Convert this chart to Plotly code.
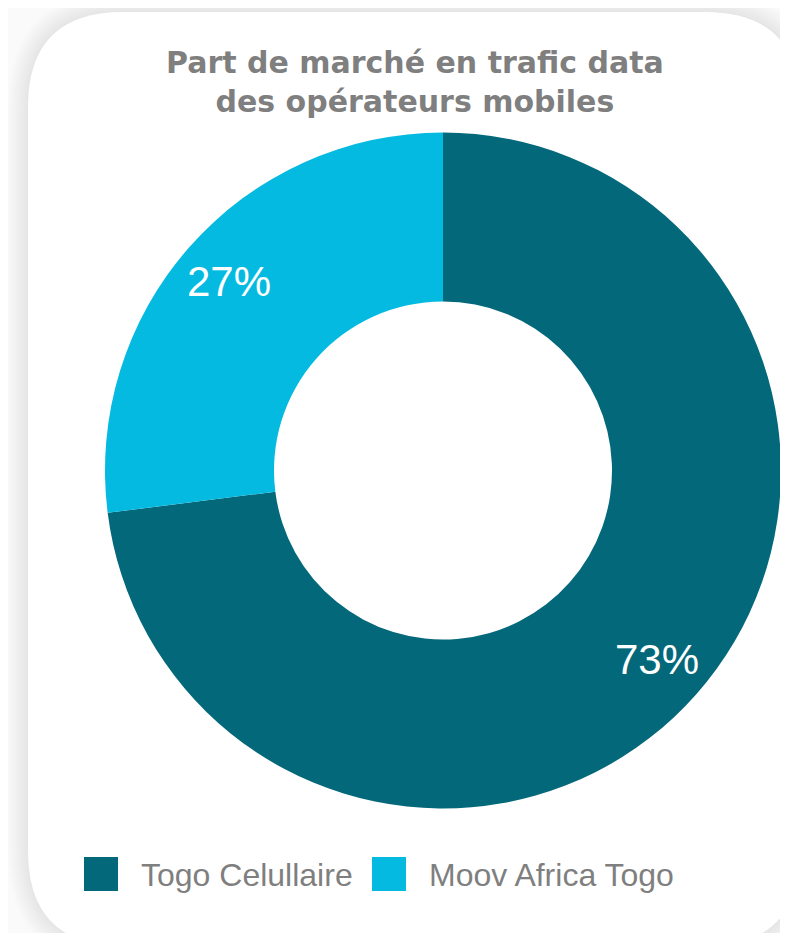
import math
import plotly.graph_objects as go

PAGE_OFF = 8          # default body margin of the page
W, H = 780, 925

operators = ["Togo Celullaire", "Moov Africa Togo"]
shares = [73, 27]
colors = ["#03687A", "#05BAE0"]
title_lines = ["Part de marché en trafic data", "des opérateurs mobiles"]


def px(x):
    return (x - PAGE_OFF) / W


def py(y):
    return 1 - (y - PAGE_OFF) / H


def rounded_rect(x0, y0, x1, y1, r):
    p = [
        f"M{px(x0 + r)},{py(y0)}",
        f"L{px(x1 - r)},{py(y0)}",
        f"Q{px(x1)},{py(y0)} {px(x1)},{py(y0 + r)}",
        f"L{px(x1)},{py(y1 - r)}",
        f"Q{px(x1)},{py(y1)} {px(x1 - r)},{py(y1)}",
        f"L{px(x0 + r)},{py(y1)}",
        f"Q{px(x0)},{py(y1)} {px(x0)},{py(y1 - r)}",
        f"L{px(x0)},{py(y0 + r)}",
        f"Q{px(x0)},{py(y0)} {px(x0 + r)},{py(y0)}",
        "Z",
    ]
    return " ".join(p)


CARD = (28, 12, 800, 946, 95)
shapes = []
# soft shadow around the card
for i in range(10):
    g = 20 - 2 * i
    x0, y0, x1, y1, r = CARD
    shapes.append(dict(type="path", xref="paper", yref="paper", layer="below",
                       path=rounded_rect(x0 - g, y0 - g, x1 + g, y1 + g, r + g),
                       fillcolor="rgba(0,0,0,0.007)", line=dict(width=0)))
shapes.append(dict(type="path", xref="paper", yref="paper", layer="below",
                   path=rounded_rect(*CARD), fillcolor="white", line=dict(width=0)))

# pie geometry (page pixels)
CX, CY, R = 443, 470.5, 338
fig = go.Figure()
fig.add_trace(go.Pie(
    labels=operators,
    values=shares,
    marker=dict(colors=colors, line=dict(width=0)),
    hole=0.5,
    sort=False,
    direction="clockwise",
    rotation=0,
    textinfo="none",
    domain=dict(x=[px(CX - R), px(CX + R)], y=[py(CY + R), py(CY - R)]),
    showlegend=False,
))

annotations = [dict(
    text="<br>".join(title_lines), x=px(415), y=py(43), xref="paper", yref="paper",
    xanchor="center", yanchor="top", showarrow=False,
    font=dict(family="DejaVu Sans", size=30, color="#7F7F7F", weight="bold"),
)]

# percentage labels, placed at the middle angle of each slice
total = sum(shares)
cum = 0
for v in shares:
    mid = 2 * math.pi * (cum + v / 2) / total
    cum += v
    lx = CX + 0.845 * R * math.sin(mid)
    ly = CY - 0.845 * R * math.cos(mid)
    annotations.append(dict(
        text=f"{round(100 * v / total)}%", x=px(lx), y=py(ly), xref="paper", yref="paper",
        xanchor="center", yanchor="middle", showarrow=False,
        font=dict(family="Liberation Sans, Arial", size=42, color="white")))

# legend
leg_x = [84, 372]
for name, col, lx in zip(operators, colors, leg_x):
    shapes.append(dict(type="rect", xref="paper", yref="paper",
                       x0=px(lx), x1=px(lx + 34), y0=py(891), y1=py(857),
                       fillcolor=col, line=dict(width=0)))
    annotations.append(dict(text=name, x=px(lx + 55), y=py(875), xref="paper", yref="paper",
                            xanchor="left", yanchor="middle", showarrow=False,
                            font=dict(family="Liberation Sans, Arial", size=32, color="#7F7F7F")))

fig.update_layout(
    width=W, height=H,
    margin=dict(l=0, r=0, t=0, b=0),
    paper_bgcolor="#FAFAFA",
    shapes=shapes,
    annotations=annotations,
)

fig.write_html("out.html")
